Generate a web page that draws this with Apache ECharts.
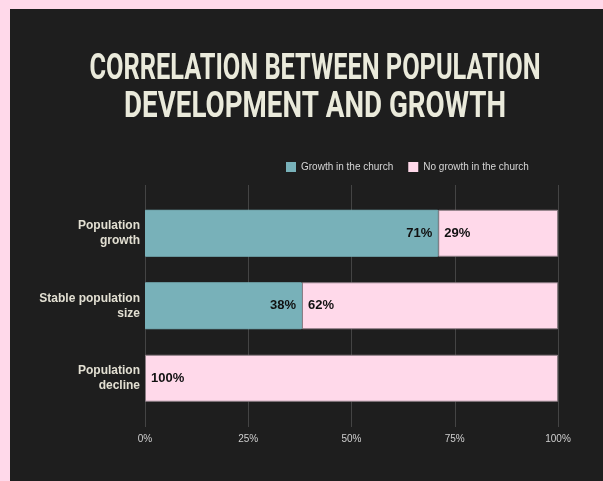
<!DOCTYPE html>
<html>
<head>
<meta charset="utf-8">
<script src="https://cdn.jsdelivr.net/npm/echarts@6/dist/echarts.min.js"></script>
<style>
  html, body { margin: 0; padding: 0; background: #ffd9ea; width: 603px; height: 481px; overflow: hidden; }
  #chart { position: absolute; left: 10px; top: 9px; width: 593px; height: 472px; }
</style>
</head>
<body>
<div id="chart"></div>
<script>
// Share of churches with / without growth, by population development
const titleLines = ['CORRELATION BETWEEN POPULATION', 'DEVELOPMENT AND GROWTH'];
const categories = ['Population\ngrowth', 'Stable population\nsize', 'Population\ndecline'];
const growthInChurch = [71, 38, 0];
const noGrowthInChurch = [29, 62, 100];
const seriesNames = ['Growth in the church', 'No growth in the church'];
const xTicks = [0, 25, 50, 75, 100];

const TEAL = '#78b1b9';
const PINK = '#ffd9ea';
const BG = '#1e1e1e';
const TITLE_FONT = 'bold 36px Roboto';
const TITLE_WIDTHS = [451, 382]; // set width of each title line, condensed look

// horizontal squeeze so the heavy title reads as a condensed face
const ctx = document.createElement('canvas').getContext('2d');
ctx.font = TITLE_FONT;
const titleScale = (i) => TITLE_WIDTHS[i] / ctx.measureText(titleLines[i]).width;

const chart = echarts.init(document.getElementById('chart'), null, { renderer: 'canvas' });

const valueLabel = (position) => ({
  show: true,
  position: position,
  distance: 6,
  color: '#111111',
  fontFamily: 'Liberation Sans, Arial, sans-serif',
  fontWeight: 'bold',
  fontSize: 13,
  formatter: (p) => (p.value > 0 ? p.value + '%' : '')
});

const titleText = (i, y) => ({
  type: 'text',
  x: 305,
  y: y,
  scaleX: titleScale(i),
  style: {
    text: titleLines[i],
    font: TITLE_FONT,
    fill: '#eaeadb',
    textAlign: 'center',
    textVerticalAlign: 'middle'
  }
});

// teal segments get a same-colour edge so they cleanly cover the pink outline at the seam
const growthData = growthInChurch.map((v) =>
  v > 0 ? { value: v } : { value: v, itemStyle: { borderWidth: 0 } }
);

chart.setOption({
  backgroundColor: BG,
  animation: false,
  graphic: [titleText(0, 61), titleText(1, 99)],
  legend: {
    data: seriesNames,
    top: 148,
    left: 271,
    itemWidth: 10,
    itemHeight: 10,
    itemGap: 15,
    icon: 'rect',
    itemStyle: { borderWidth: 0 },
    textStyle: { color: '#d6d6d6', fontFamily: 'Liberation Sans, Arial, sans-serif', fontSize: 10 }
  },
  grid: [
    { left: 135, right: 45, top: 176, height: 242 },
    { left: 135, right: 45, top: 188, height: 217.5 }
  ],
  xAxis: [
    {
      gridIndex: 0, type: 'value', min: xTicks[0], max: xTicks[xTicks.length - 1], interval: 25,
      axisLine: { show: false }, axisTick: { show: false },
      splitLine: { show: true, lineStyle: { color: '#444444', width: 1 } },
      axisLabel: { color: '#cfcfcf', fontSize: 10, margin: 7, fontFamily: 'Liberation Sans, Arial, sans-serif', formatter: '{value}%' }
    },
    {
      gridIndex: 1, type: 'value', min: 0, max: 100,
      axisLine: { show: false }, axisTick: { show: false },
      splitLine: { show: false }, axisLabel: { show: false }
    }
  ],
  yAxis: [
    {
      gridIndex: 0, type: 'category', data: categories, inverse: true,
      axisLine: { show: false }, axisTick: { show: false }, axisLabel: { show: false }, splitLine: { show: false }
    },
    {
      gridIndex: 1, type: 'category', data: categories, inverse: true,
      axisLine: { show: false }, axisTick: { show: false }, splitLine: { show: false },
      axisLabel: {
        color: '#e2dfd2', fontSize: 12, fontWeight: 'bold', lineHeight: 15, margin: 5,
        fontFamily: 'Liberation Sans, Arial, sans-serif', align: 'right'
      }
    }
  ],
  series: [
    {
      name: seriesNames[0], type: 'bar', stack: 'total', xAxisIndex: 1, yAxisIndex: 1,
      data: growthData, barWidth: 47, z: 3, zlevel: 1,
      itemStyle: { color: TEAL, borderColor: TEAL, borderWidth: 1 },
      label: valueLabel('insideRight')
    },
    {
      name: seriesNames[1], type: 'bar', stack: 'total', xAxisIndex: 1, yAxisIndex: 1,
      data: noGrowthInChurch, barWidth: 47, z: 2,
      itemStyle: { color: PINK, borderColor: '#8c7d84', borderWidth: 1 },
      label: valueLabel('insideLeft')
    }
  ]
});
</script>
</body>
</html>
